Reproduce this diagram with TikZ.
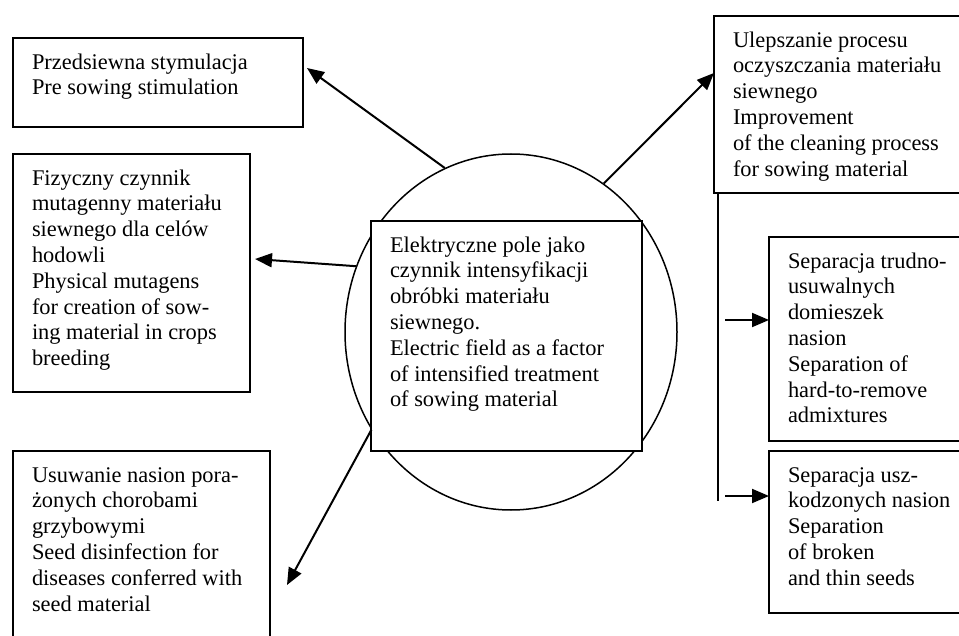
\documentclass[tikz,border=0pt]{standalone}
\usepackage{fontspec}
\setmainfont{Liberation Serif}
\usetikzlibrary{arrows.meta,shapes.geometric}
\newcommand{\boxpar}[3]{\parbox[t][#2][t]{#1}{\raggedright\strut #3}}
\tikzset{
  infobox/.style={draw, line width=1.8pt, anchor=north west, inner xsep=19pt, inner ysep=13pt, outer sep=0pt},
  link/.style={line width=2pt, -{Triangle[length=17pt,width=14pt]}},
}

\begin{document}
\begin{tikzpicture}[x=1pt, y=-1pt, every node/.style={font=\fontsize{22.4}{25.8}\selectfont}]

  \useasboundingbox (0,0) rectangle (959,636);
  \clip (0,0) rectangle (959,636);

  % Central field with its description on top
  \node[ellipse, draw, line width=1.5pt, minimum width=332pt, minimum height=356pt, inner sep=0pt] (field) at (511,332) {};
  \node[infobox, fill=white] (core) at (371,221) {\boxpar{233pt}{204pt}{Elektryczne pole jako\\ czynnik intensyfikacji\\ obróbki materiału\\ siewnego.\\ Electric field as a factor\\ of intensified treatment\\ of sowing material}};

  % Left column
  \node[infobox] (stim)    at (13,38)  {\boxpar{252pt}{63pt}{Przedsiewna stymulacja\\ Pre sowing stimulation}};
  \node[infobox] (mutagen) at (13,154) {\boxpar{199pt}{212pt}{Fizyczny czynnik\\ mutagenny materiału\\ siewnego dla celów\\ hodowli\\ Physical mutagens\\ for creation of sow-\\ ing material in crops\\ breeding}};
  \node[infobox] (fungi)   at (13,451) {\boxpar{219pt}{183pt}{Usuwanie nasion pora-\\ żonych chorobami\\ grzybowymi\\ Seed disinfection for\\ diseases conferred with\\ seed material}};

  % Right column
  \node[infobox] (clean)  at (714,16)  {\boxpar{222pt}{151pt}{Ulepszanie procesu\\ oczyszczania materiału\\ siewnego\\ Improvement\\ of the cleaning process\\ for sowing material}};
  \node[infobox] (hard)   at (769,237) {\boxpar{177pt}{178pt}{Separacja trudno-\\ usuwalnych\\ domieszek\\ nasion\\ Separation of\\ hard-to-remove\\ admixtures}};
  \node[infobox] (broken) at (769,451) {\boxpar{177pt}{136pt}{Separacja usz-\\ kodzonych nasion\\ Separation\\ of broken\\ and thin seeds}};

  % Arrows out of the field
  \draw[link] (field.112) -- ([xshift=4pt,yshift=14.5pt]stim.east);
  \draw[link] (field.157) -- ([xshift=5pt,yshift=14pt]mutagen.east);
  \draw[link] (field.215) -- ([xshift=17pt,yshift=-29.5pt]fungi.east);
  \draw[link] (field.58)  -- ([yshift=31.5pt]clean.west);

  % Trunk under the cleaning box and its branches
  \coordinate (trunkend) at (718,501);
  \draw[line width=1.5pt] ([xshift=4pt]clean.south west) -- (trunkend);
  \draw[link] ([xshift=-44pt,yshift=19pt]hard.west) -- ([yshift=19pt]hard.west);
  \draw[link] ([xshift=-44pt,yshift=36pt]broken.west) -- ([yshift=36pt]broken.west);

\end{tikzpicture}
\end{document}
